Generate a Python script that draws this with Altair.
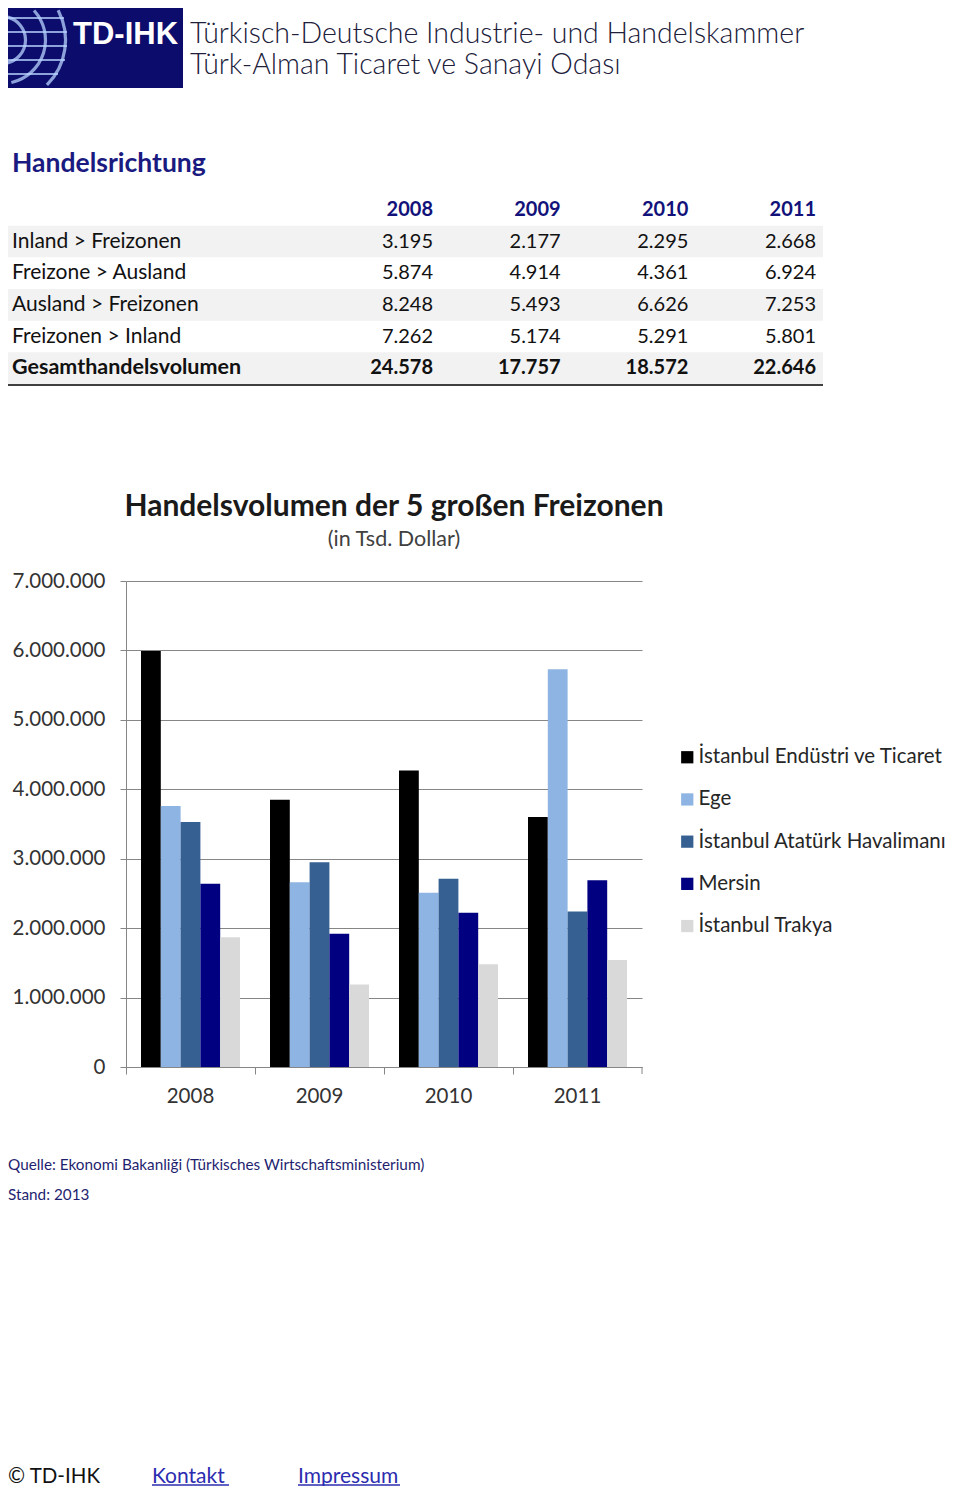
import altair as alt
import pandas as pd

FONT = "Lato"

# ---------------- data ----------------
years = ["2008", "2009", "2010", "2011"]
zones = ["İstanbul Endüstri ve Ticaret", "Ege", "İstanbul Atatürk Havalimanı",
         "Mersin", "İstanbul Trakya"]
zone_colors = ["#000000", "#8EB4E3", "#376092", "#000080", "#D9D9D9"]

istanbul_endustri = [5990000, 3850000, 4270000, 3600000]
ege = [3760000, 2660000, 2510000, 5730000]
istanbul_ataturk = [3530000, 2950000, 2710000, 2240000]
mersin = [2640000, 1920000, 2220000, 2690000]
istanbul_trakya = [1870000, 1190000, 1480000, 1540000]
series = [istanbul_endustri, ege, istanbul_ataturk, mersin, istanbul_trakya]

y_ticks = [0, 1000000, 2000000, 3000000, 4000000, 5000000, 6000000, 7000000]

table_rows = ["Inland > Freizonen", "Freizone > Ausland", "Ausland > Freizonen",
              "Freizonen > Inland", "Gesamthandelsvolumen"]
inland_freizonen = ["3.195", "2.177", "2.295", "2.668"]
freizone_ausland = ["5.874", "4.914", "4.361", "6.924"]
ausland_freizonen = ["8.248", "5.493", "6.626", "7.253"]
freizonen_inland = ["7.262", "5.174", "5.291", "5.801"]
gesamt = ["24.578", "17.757", "18.572", "22.646"]
table_values = [inland_freizonen, freizone_ausland, ausland_freizonen, freizonen_inland, gesamt]
shaded_rows = [True, False, True, False, True]

header_logo = "TD-IHK"
header_lines = ["Türkisch-Deutsche Industrie- und Handelskammer",
                "Türk-Alman Ticaret ve Sanayi Odası"]
section_title = "Handelsrichtung"
chart_title = "Handelsvolumen der 5 großen Freizonen"
chart_subtitle = "(in Tsd. Dollar)"
source_lines = ["Quelle: Ekonomi Bakanliği (Türkisches Wirtschaftsministerium)",
                "Stand: 2013"]
footer_items = ["© TD-IHK", "Kontakt ", "Impressum"]

# ---------------- tables ----------------
bars_df = pd.DataFrame([
    {"year": y, "zone": z, "value": v}
    for z, vals in zip(zones, series)
    for y, v in zip(years, vals)
])

row_keys = ["_header"] + table_rows
rows_df = pd.DataFrame({"row": table_rows, "shade": shaded_rows,
                        "bold": [r == "Gesamthandelsvolumen" for r in table_rows]})
cells_df = pd.DataFrame([
    {"row": r, "year": y, "text": t, "bold": r == "Gesamthandelsvolumen"}
    for r, vals in zip(table_rows, table_values)
    for y, t in zip(years, vals)
])
head_df = pd.DataFrame({"row": ["_header"] * 4, "year": years})

W, H = 516, 486

tblY = alt.Scale(type="band", domain=row_keys, range=[-387, -197], paddingInner=0, paddingOuter=0)
tblX = alt.Scale(type="point", domain=years, range=[307, 690], padding=0)


def text_layer(s, x, y, size, color, weight="normal", align="left", font=FONT):
    return alt.Chart(pd.DataFrame({"t": [s]})).mark_text(
        align=align, baseline="middle", font=font, fontSize=size,
        fontWeight=weight, color=color
    ).encode(x=alt.value(x), y=alt.value(y), text="t:N")


layers = []

# ---- header logo ----
layers.append(alt.Chart(pd.DataFrame({"a": [0]})).mark_rect(color="#0c0c6c").encode(
    x=alt.value(-118), x2=alt.value(57), y=alt.value(-573), y2=alt.value(-493)))
for r, t1, t2 in [(24, 0.2, 3.0), (44, 0.85, 2.9), (64, 1.1, 2.34)]:
    layers.append(alt.Chart(pd.DataFrame({"a": [0]})).mark_arc(
        radius=r, radius2=r - 1, theta=t1, theta2=t2, fillOpacity=0,
        stroke="#b8d4ff", strokeWidth=2.2, strokeOpacity=0.75
    ).encode(x=alt.value(-124), y=alt.value(-541)))
for yy, xe in [(-563, -62), (-549, -59), (-535, -59), (-521, -61), (-507, -68)]:
    layers.append(alt.Chart(pd.DataFrame({"a": [0]})).mark_rule(
        color="#b8d4ff", strokeWidth=2.2, opacity=0.75
    ).encode(x=alt.value(-118), x2=alt.value(xe), y=alt.value(yy)))
layers.append(text_layer(header_logo, -53, -546, 31, "#ffffff", "bold", font="Liberation Sans"))
layers.append(text_layer(header_lines[0], 64, -547, 28.5, "#20203a", 300))
layers.append(text_layer(header_lines[1], 64, -516, 28.5, "#20203a", 300))

# ---- section title ----
layers.append(text_layer(section_title, -114, -417, 26.5, "#1a1a80", "bold"))

# ---- table ----
layers.append(alt.Chart(rows_df).transform_filter("datum.shade").mark_rect(color="#f2f2f2").encode(
    y=alt.Y("row:N", scale=tblY, axis=None), x=alt.value(-122), x2=alt.value(697)))
layers.append(alt.Chart(rows_df).transform_filter("!datum.bold").mark_text(
    align="left", baseline="middle", font=FONT, fontSize=21, color="#111111").encode(
    y=alt.Y("row:N", scale=tblY, axis=None), x=alt.value(-114), text="row:N"))
layers.append(alt.Chart(rows_df).transform_filter("datum.bold").mark_text(
    align="left", baseline="middle", font=FONT, fontSize=21.5, fontWeight="bold", color="#111111").encode(
    y=alt.Y("row:N", scale=tblY, axis=None), x=alt.value(-114), text="row:N"))
layers.append(alt.Chart(cells_df).transform_filter("!datum.bold").mark_text(
    align="right", baseline="middle", font=FONT, fontSize=20, color="#111111").encode(
    y=alt.Y("row:N", scale=tblY, axis=None), x=alt.X("year:N", scale=tblX, axis=None), text="text:N"))
layers.append(alt.Chart(cells_df).transform_filter("datum.bold").mark_text(
    align="right", baseline="middle", font=FONT, fontSize=20, fontWeight="bold", color="#111111").encode(
    y=alt.Y("row:N", scale=tblY, axis=None), x=alt.X("year:N", scale=tblX, axis=None), text="text:N"))
layers.append(alt.Chart(head_df).mark_text(
    align="right", baseline="middle", font=FONT, fontSize=20, fontWeight="bold", color="#12127a").encode(
    y=alt.Y("row:N", scale=tblY, axis=None), x=alt.X("year:N", scale=tblX, axis=None), text="year:N"))
layers.append(alt.Chart(pd.DataFrame({"a": [0]})).mark_rule(color="#000000", strokeWidth=1.5).encode(
    x=alt.value(-122), x2=alt.value(697), y=alt.value(-196)))

# ---- chart title ----
layers.append(text_layer(chart_title, 268, -74, 30, "#1a1a1a", "bold", align="center"))
layers.append(text_layer(chart_subtitle, 268, -41, 21.5, "#404040", align="center"))

# ---- bars ----
bars = alt.Chart(bars_df).mark_bar().encode(
    x=alt.X("year:N", sort=years, title=None,
            scale=alt.Scale(paddingInner=0, paddingOuter=0),
            axis=alt.Axis(bandPosition=0, labelAngle=0, tickSize=7,
                          labelPadding=12, grid=False, domainColor="#868686",
                          tickColor="#868686", labelFontSize=20.5, labelColor="#333333",
                          labelFont=FONT)),
    xOffset=alt.XOffset("zone:N", sort=zones,
                        scale=alt.Scale(paddingInner=0, paddingOuter=0.758)),
    y=alt.Y("value:Q", title=None, scale=alt.Scale(domain=[0, 7000000], nice=False),
            axis=alt.Axis(values=y_ticks, grid=True, gridColor="#868686", gridWidth=1,
                          domainColor="#868686", tickColor="#868686", tickSize=6,
                          labelPadding=15, labelFontSize=20.5, labelColor="#333333",
                          labelFont=FONT,
                          labelExpr="replace(replace(format(datum.value, ',d'), ',', '.'), ',', '.')")),
    color=alt.Color("zone:N", sort=zones,
                    scale=alt.Scale(domain=zones, range=zone_colors),
                    legend=alt.Legend(orient="none", legendX=551, legendY=166, title=None,
                                      symbolType="square", symbolSize=150, symbolStrokeWidth=0,
                                      labelFontSize=20.5, labelFont=FONT, labelColor="#262626",
                                      rowPadding=21.2, labelLimit=500, padding=0, labelOffset=1)),
)
layers.append(bars)
# closing tick at right end of category axis
layers.append(alt.Chart(pd.DataFrame({"a": [0]})).mark_rule(color="#868686").encode(
    x=alt.value(W), y=alt.value(H), y2=alt.value(H + 7)))

# ---- footer ----
layers.append(text_layer(source_lines[0], -118, 584, 15.3, "#1f1f70"))
layers.append(text_layer(source_lines[1], -118, 614, 15.3, "#1f1f70"))
layers.append(text_layer(footer_items[0], -118, 896, 20.5, "#111111"))
layers.append(text_layer(footer_items[1], 26, 896, 21, "#2c2cb0"))
layers.append(text_layer(footer_items[2], 172, 896, 21, "#2c2cb0"))
layers.append(alt.Chart(pd.DataFrame({"a": [0]})).mark_rule(color="#2c2cb0", strokeWidth=1.3).encode(
    x=alt.value(26), x2=alt.value(103), y=alt.value(904)))
layers.append(alt.Chart(pd.DataFrame({"a": [0]})).mark_rule(color="#2c2cb0", strokeWidth=1.3).encode(
    x=alt.value(172), x2=alt.value(274), y=alt.value(904)))

chart = alt.layer(*layers).resolve_scale(
    x="independent", y="independent"
).properties(
    width=W, height=H,
    autosize=alt.AutoSizeParams(type="none"),
    padding={"left": 118, "top": 573, "right": 310, "bottom": 1478 - 573 - H},
    background="#ffffff",
).configure_view(stroke=None)

chart.save("out.html", embed_options={"renderer": "svg", "actions": False})
